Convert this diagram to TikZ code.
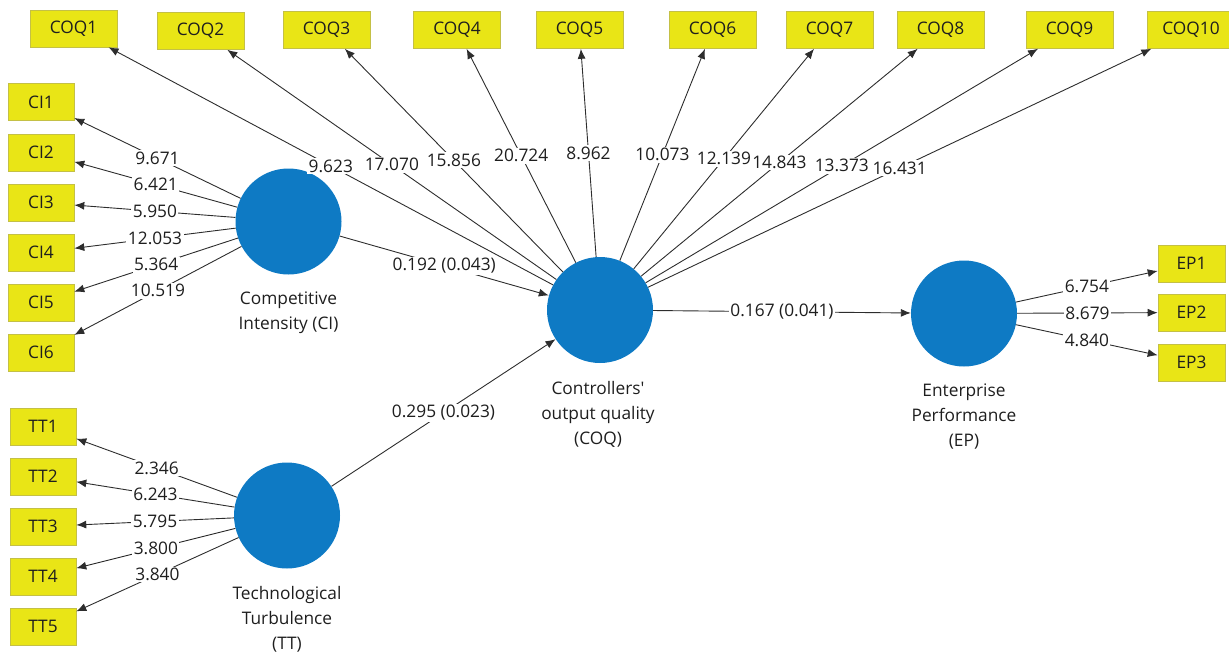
\documentclass[tikz,border=0pt]{standalone}
\usepackage{fontspec}
\setmainfont{Open Sans}
\usetikzlibrary{arrows.meta}
\definecolor{indyellow}{RGB}{233,229,22}
\definecolor{indedge}{RGB}{196,192,70}
\definecolor{lvblue}{RGB}{14,122,196}
\definecolor{pathgray}{RGB}{45,45,45}
\definecolor{txt}{RGB}{30,30,30}

\begin{document}
\begin{tikzpicture}[x=1pt,y=-1pt,
  indicator/.style={rectangle, fill=indyellow, draw=indedge, line width=0.6pt,
    minimum height=37pt, inner sep=0pt, font=\fontsize{17.3}{20}\selectfont, text=txt},
  coqbox/.style={indicator, minimum width=87pt},
  smallbox/.style={indicator, minimum width=66pt},
  latent/.style={circle, fill=lvblue, minimum size=106pt, inner sep=0pt},
  lvname/.style={align=center, font=\fontsize{17.3}{25}\selectfont, text=txt},
  link/.style={draw=pathgray, line width=0.9pt, -{Latex[length=10pt,width=8pt]}},
  weight/.style={fill=white, inner sep=1.5pt, font=\fontsize{17.3}{20}\selectfont, text=txt}
]
\useasboundingbox (0,0) rectangle (1229,653);

% latent variables
\node[latent] (ci)  at (288.5,221.5) {};
\node[latent] (tt)  at (287,515.5) {};
\node[latent] (coq) at (600,310) {};
\node[latent] (ep)  at (964,313.5) {};

\node[lvname] (ciname)  at (288.5,313) {Competitive\\Intensity (CI)};
\node[lvname] (ttname)  at (287,619) {Technological\\Turbulence\\(TT)};
\node[lvname] (coqname) at (598,414) {Controllers\textquotesingle\\output quality\\(COQ)};
\node[lvname] (epname)  at (964,417) {Enterprise\\Performance\\(EP)};

% indicators
\foreach \i/\x/\y in {1/73.5/28.5, 2/200.5/31, 3/326.5/30, 4/457/30, 5/579.5/30,
                      6/712.5/30, 7/829.5/30, 8/940.5/30, 9/1069.5/30, 10/1191/30}
  \node[coqbox] (coq\i) at (\x,\y) {COQ\i};
\foreach \i/\y in {1/102, 2/152.5, 3/202.5, 4/252.5, 5/302.5, 6/352.5}
  \node[smallbox] (ci\i) at (41,\y) {CI\i};
\foreach \i/\y in {1/426.5, 2/476.5, 3/526.5, 4/576.5, 5/626.5}
  \node[smallbox] (tt\i) at (43,\y) {TT\i};
\foreach \i/\y in {1/263.5, 2/312.5, 3/362.5}
  \node[smallbox, minimum width=67pt] (ep\i) at (1191.5,\y) {EP\i};

% connectors (labels placed afterwards so they sit above every line)
\foreach \i in {1,...,10}
  \path[link] (coq) -- coordinate[midway] (wcoq\i) (coq\i);
\foreach \i in {1,...,6}
  \path[link] (ci) -- coordinate[midway] (wci\i) (ci\i);
\foreach \i in {1,...,5}
  \path[link] (tt) -- coordinate[midway] (wtt\i) (tt\i);
\foreach \i in {1,...,3}
  \path[link] (ep) -- coordinate[midway] (wep\i) (ep\i);
\path[link] (ci) -- coordinate[midway] (wcicoq) (coq);
\path[link] (tt) -- coordinate[midway] (wttcoq) (coq);
\path[link] (coq) -- coordinate[midway] (wcoqep) (ep);

% path weights
\foreach \i/\v in {1/9.623, 2/17.070, 3/15.856, 4/20.724, 5/8.962,
                   6/10.073, 7/12.139, 8/14.843, 9/13.373, 10/16.431}
  \node[weight] (lcoq\i) at (wcoq\i) {\v};
\foreach \i/\v in {1/9.671, 2/6.421, 3/5.950, 4/12.053, 5/5.364, 6/10.519}
  \node[weight] (lci\i) at (wci\i) {\v};
\foreach \i/\v in {1/2.346, 2/6.243, 3/5.795, 4/3.800, 5/3.840}
  \node[weight] (ltt\i) at (wtt\i) {\v};
\foreach \i/\v in {1/6.754, 2/8.679, 3/4.840}
  \node[weight] (lep\i) at (wep\i) {\v};
\node[weight] (lcicoq) at (wcicoq) {0.192 (0.043)};
\node[weight] (lttcoq) at (wttcoq) {0.295 (0.023)};
\node[weight] (lcoqep) at (wcoqep) {0.167 (0.041)};
\end{tikzpicture}
\end{document}
